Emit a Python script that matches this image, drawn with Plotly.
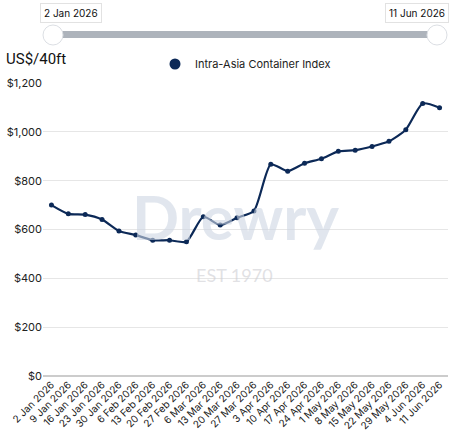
import plotly.graph_objects as go

dates = ["2 Jan 2026", "9 Jan 2026", "16 Jan 2026", "23 Jan 2026", "30 Jan 2026",
         "6 Feb 2026", "13 Feb 2026", "20 Feb 2026", "27 Feb 2026",
         "6 Mar 2026", "13 Mar 2026", "20 Mar 2026", "27 Mar 2026",
         "3 Apr 2026", "10 Apr 2026", "17 Apr 2026", "24 Apr 2026",
         "1 May 2026", "8 May 2026", "15 May 2026", "22 May 2026", "29 May 2026",
         "4 Jun 2026", "11 Jun 2026"]
index_values = [700, 664, 661, 641, 594, 577, 556, 556, 550, 652, 618, 648, 676,
                867, 839, 871, 890, 920, 925, 940, 961, 1009, 1116, 1099]
y_ticks = [0, 200, 400, 600, 800, 1000, 1200]
y_tick_labels = ["$0", "$200", "$400", "$600", "$800", "$1,000", "$1,200"]
series_name = "Intra-Asia Container Index"

W, H = 450, 431
L, R, T, B = 43, 448, 83, 376
NAVY = "#0c2957"
FONT = "Inter, Roboto, sans-serif"


def px(x):
    return (x - L) / (R - L)


def py(y):
    return (B - y) / (B - T)


fig = go.Figure()
fig.add_trace(go.Scatter(
    x=dates, y=index_values, mode="lines+markers",
    line=dict(color=NAVY, width=2.2, shape="spline", smoothing=0.6),
    marker=dict(color=NAVY, size=5),
    showlegend=False, name=series_name,
    hovertemplate="%{x}<br>$%{y:,}<extra></extra>"))
fig.add_trace(go.Scatter(
    x=[None], y=[None], mode="markers", name=series_name,
    marker=dict(color=NAVY, size=11), showlegend=True))

shapes = []
# range navigator bar (decoration)
shapes.append(dict(type="rect", xref="paper", yref="paper",
                   x0=px(53), x1=px(437), y0=py(38), y1=py(31),
                   fillcolor="#adb3bb", line=dict(width=0), layer="above"))
for cx in (53, 437):
    shapes.append(dict(type="circle", xref="paper", yref="paper",
                       x0=px(cx - 10), x1=px(cx + 10), y0=py(45), y1=py(25),
                       fillcolor="white", line=dict(color="#dcdfe4", width=1), layer="above"))

annotations = [
    dict(text="2 Jan 2026", x=px(71), y=py(13.5), xref="paper", yref="paper",
         xanchor="center", yanchor="middle", showarrow=False,
         bgcolor="white", bordercolor="#e2e2e2", borderwidth=1, borderpad=3,
         font=dict(size=10, color="#111", family=FONT)),
    dict(text="11 Jun 2026", x=px(416.5), y=py(13.5), xref="paper", yref="paper",
         xanchor="center", yanchor="middle", showarrow=False,
         bgcolor="white", bordercolor="#e2e2e2", borderwidth=1, borderpad=3,
         font=dict(size=10, color="#111", family=FONT)),
    dict(text="US$/40ft", x=px(4), y=py(59), xref="paper", yref="paper",
         xanchor="left", yanchor="middle", showarrow=False,
         font=dict(size=15, color="#111", family="Roboto, sans-serif")),
    dict(text="<b>Drewry</b>", x=px(235), y=py(216), xref="paper", yref="paper",
         xanchor="center", yanchor="middle", showarrow=False,
         font=dict(size=62, color="rgba(205,214,226,0.6)",
                   family="Lato, Inter, sans-serif")),
    dict(text="EST 1970", x=px(234), y=py(275), xref="paper", yref="paper",
         xanchor="center", yanchor="middle", showarrow=False,
         font=dict(size=18, color="rgba(205,205,210,0.6)",
                   family="Lato, Inter, sans-serif")),
]

fig.update_layout(
    width=W, height=H,
    margin=dict(l=L, r=W - R, t=T, b=H - B, autoexpand=False),
    paper_bgcolor="white", plot_bgcolor="white",
    font=dict(family=FONT, size=10, color="#222"),
    shapes=shapes, annotations=annotations,
    legend=dict(orientation="h", x=0.5, xanchor="center", y=py(64), yanchor="middle",
                font=dict(size=11, color="#222", family=FONT),
                bgcolor="rgba(0,0,0,0)", itemsizing="trace"),
    xaxis=dict(type="category", range=[-0.5, len(dates) - 0.5], automargin=False,
               tickangle=-45, showgrid=False, showline=False, ticks="",
               tickfont=dict(size=10, color="#222"), fixedrange=True),
    yaxis=dict(range=[0, 1200], tickvals=y_ticks, ticktext=y_tick_labels, automargin=False,
               showgrid=True, gridcolor="#e6e6e6", gridwidth=1,
               zeroline=True, zerolinecolor="#cccccc", zerolinewidth=2,
               tickfont=dict(size=11, color="#222"), ticks="", fixedrange=True),
)

fig.write_html("out.html", config={"displayModeBar": False})
